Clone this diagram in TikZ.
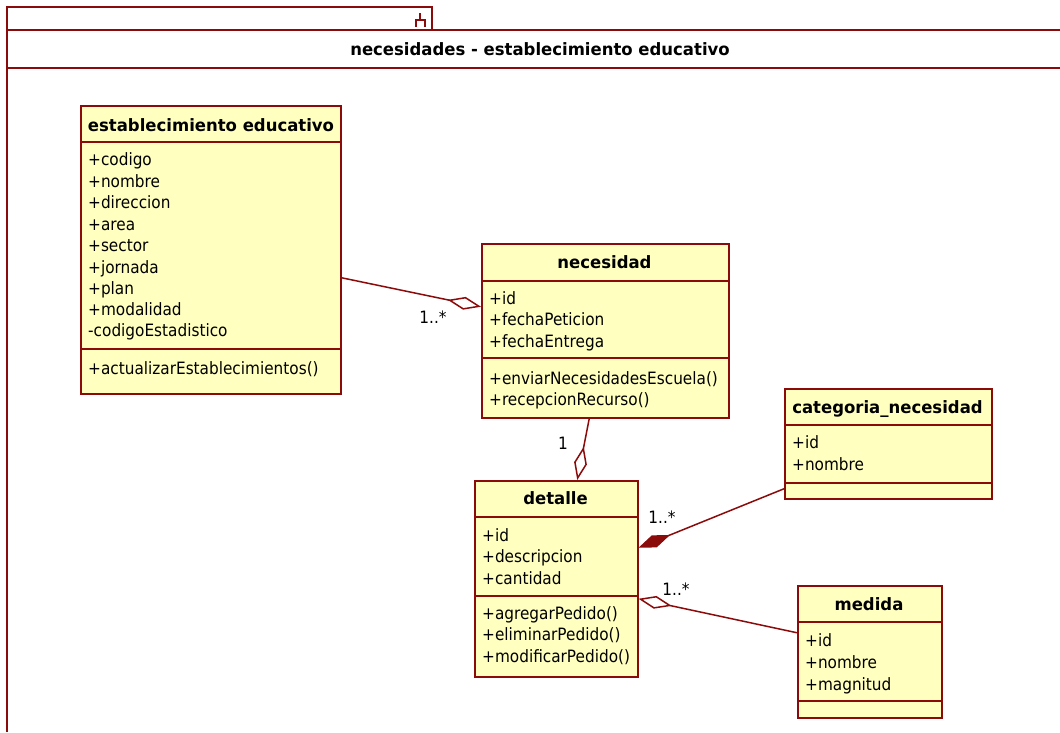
\documentclass[tikz,border=0pt]{standalone}
\usepackage{fontspec}
\setmainfont{DejaVu Sans}
\newfontfamily\umlfont[FakeStretch=0.9]{DejaVu Sans}
\newfontfamily\umlboldfont[FakeStretch=0.97]{DejaVu Sans}
\usetikzlibrary{arrows.meta}
\definecolor{umlline}{HTML}{8B0A0A}
\definecolor{umlfill}{HTML}{FFFFC0}
\begin{document}
\begin{tikzpicture}[x=1pt,y=-1pt,
  line/.style={draw=umlline,line width=1.5pt},
  cls/.style={line,fill=umlfill,anchor=north west,inner sep=0pt},
  txt/.style={inner sep=0pt,text height=14pt,text depth=2pt},
  ttl/.style={txt,font=\umlboldfont\fontsize{17}{19}\selectfont\bfseries,anchor=center},
  attr/.style={txt,font=\umlfont\fontsize{17}{19}\selectfont,anchor=west},
  mult/.style={txt,font=\umlfont\fontsize{17}{19}\selectfont,anchor=center},
  agg/.style={line,-{Diamond[open,length=34pt,width=13pt]}},
  comp/.style={line,-{Diamond[length=34pt,width=13pt,fill=umlline]}}]
\useasboundingbox[fill=white] (0,0) rectangle (1060,732);

% package frame
\draw[line] (7,732) -- (7,7) -- (432,7) -- (432,30);
\draw[line] (7,30) -- (1060,30);
\draw[line] (7,68) -- (1060,68);
\draw[line,line width=1.2pt] (420,13) -- (420,20) (416,27) -- (416,20) -- (425,20) -- (425,27);
\node[ttl] (pkgtitle) at (540,49) {necesidades - establecimiento educativo};

% establecimiento educativo
\node[cls,minimum width=260pt,minimum height=288pt] (est) at (80,105) {};
\draw[line] (80,142) -- (340,142);
\draw[line] (80,349) -- (340,349);
\node[ttl] (est-t) at (211,125) {establecimiento educativo};
\node[attr] (est-a1) at (88,159) {+codigo};
\node[attr] (est-a2) at (88,181) {+nombre};
\node[attr] (est-a3) at (88,202) {+direccion};
\node[attr] (est-a4) at (88,224) {+area};
\node[attr] (est-a5) at (88,245) {+sector};
\node[attr] (est-a6) at (88,267) {+jornada};
\node[attr] (est-a7) at (88,288) {+plan};
\node[attr] (est-a8) at (88,309) {+modalidad};
\node[attr] (est-a9) at (88,330) {-codigoEstadistico};
\node[attr] (est-m1) at (88,368) {+actualizarEstablecimientos()};

% necesidad
\node[cls,minimum width=247pt,minimum height=174pt] (nec) at (481,243) {};
\draw[line] (481,281) -- (728,281);
\draw[line] (481,358) -- (728,358);
\node[ttl] (nec-t) at (604.5,262) {necesidad};
\node[attr] (nec-a1) at (489,298) {+id};
\node[attr] (nec-a2) at (489,319) {+fechaPeticion};
\node[attr] (nec-a3) at (489,341) {+fechaEntrega};
\node[attr] (nec-m1) at (489,378) {+enviarNecesidadesEscuela()};
\node[attr] (nec-m2) at (489,399) {+recepcionRecurso()};

% categoria_necesidad
\node[cls,minimum width=207pt,minimum height=110pt] (cat) at (784,388) {};
\draw[line] (784,425) -- (991,425);
\draw[line] (784,483) -- (991,483);
\node[ttl] (cat-t) at (887.5,407) {categoria\_necesidad};
\node[attr] (cat-a1) at (792,442) {+id};
\node[attr] (cat-a2) at (792,464) {+nombre};

% detalle
\node[cls,minimum width=163pt,minimum height=196pt] (det) at (474,480) {};
\draw[line] (474,517) -- (637,517);
\draw[line] (474,596) -- (637,596);
\node[ttl] (det-t) at (555.5,498) {detalle};
\node[attr] (det-a1) at (482,535) {+id};
\node[attr] (det-a2) at (482,556) {+descripcion};
\node[attr] (det-a3) at (482,578) {+cantidad};
\node[attr] (det-m1) at (482,613) {+agregarPedido()};
\node[attr] (det-m2) at (482,634) {+eliminarPedido()};
\node[attr] (det-m3) at (482,656) {+modificarPedido()};

% medida
\node[cls,minimum width=144pt,minimum height=132pt] (med) at (797,585) {};
\draw[line] (797,622) -- (941,622);
\draw[line] (797,701) -- (941,701);
\node[ttl] (med-t) at (869,604) {medida};
\node[attr] (med-a1) at (805,640) {+id};
\node[attr] (med-a2) at (805,662) {+nombre};
\node[attr] (med-a3) at (805,684) {+magnitud};

% associations
\draw[agg] ([yshift=-28pt]est.east) -- ([yshift=24pt]nec.west);
\node[mult] (m1) at (433,317) {1..*};
\draw[agg] ([xshift=-16pt]nec.south) -- ([xshift=21pt]det.north);
\node[mult] (m2) at (563,443) {1};
\draw[comp] ([yshift=-45pt]cat.west) -- ([yshift=31pt]det.east);
\node[mult] (m3) at (662,517) {1..*};
\draw[agg] ([yshift=19pt]med.west) -- ([yshift=-20pt]det.east);
\node[mult] (m4) at (676,589) {1..*};
\end{tikzpicture}
\end{document}
